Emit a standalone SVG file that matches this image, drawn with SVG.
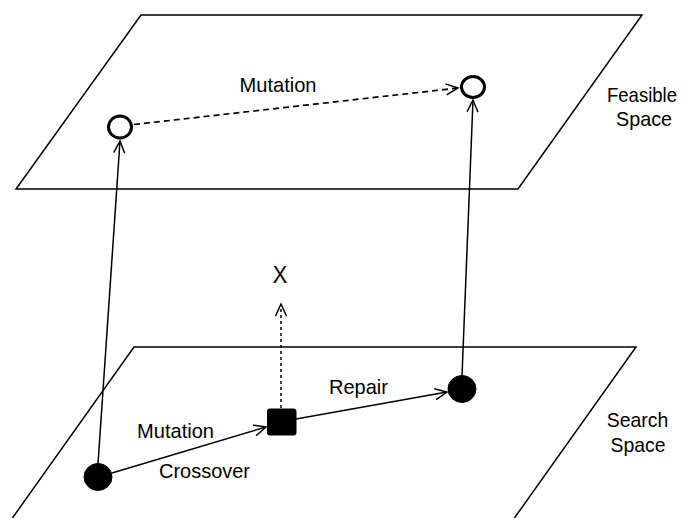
<svg xmlns="http://www.w3.org/2000/svg" width="685" height="518" viewBox="0 0 685 518">
  <defs>
    <marker id="openArrow" markerUnits="userSpaceOnUse" markerWidth="16" markerHeight="14" refX="14" refY="7" orient="auto" overflow="visible">
      <path d="M2,1.5 L14,7 L2,12.5" fill="none" stroke="#000" stroke-width="1.5"/>
    </marker>
  </defs>
  <style>
    .plane { fill: none; stroke: #000; stroke-width: 1.5; }
    .lbl { font-family: "Liberation Sans", Arial, sans-serif; font-size: 21px; fill: #000; text-anchor: middle; }
    .edge { fill: none; stroke: #000; stroke-width: 1.5; marker-end: url(#openArrow); }
    .dashed { stroke-dasharray: 6 4; stroke-width: 1.7; }
    .dotted { stroke-dasharray: 3 3; }
    .open { fill: #fff; stroke: #000; stroke-width: 3; }
    .solid { fill: #000; stroke: #000; stroke-width: 1; }
  </style>

  <!-- planes -->
  <g id="feasible-space">
    <polygon class="plane" points="141,15 642,15 518,189 16,189"/>
    <text class="lbl" x="642" y="102" textLength="70" lengthAdjust="spacingAndGlyphs">Feasible</text>
    <text class="lbl" x="644" y="126" textLength="56" lengthAdjust="spacingAndGlyphs">Space</text>
  </g>
  <g id="search-space">
    <polyline class="plane" points="11,520 134,347 636,347 513,520"/>
    <text class="lbl" x="637.5" y="427" textLength="61.5" lengthAdjust="spacingAndGlyphs">Search</text>
    <text class="lbl" x="638" y="452" textLength="55" lengthAdjust="spacingAndGlyphs">Space</text>
  </g>

  <!-- connectors -->
  <g id="connectors">
    <line class="edge" x1="98" y1="464" x2="120" y2="141"/>
    <line class="edge" x1="462" y1="376" x2="473" y2="100"/>
    <line class="edge dashed" x1="134" y1="124.5" x2="458" y2="88"/>
    <line class="edge" x1="112" y1="473" x2="266" y2="427"/>
    <line class="edge" x1="296" y1="419" x2="447" y2="392"/>
    <line class="edge dotted" x1="281" y1="408" x2="281" y2="304"/>
  </g>

  <!-- nodes -->
  <g id="feasible-a"><ellipse class="open" cx="120" cy="127" rx="11.5" ry="11"/></g>
  <g id="feasible-b"><ellipse class="open" cx="473" cy="87" rx="11.5" ry="10.5"/></g>
  <g id="search-a"><ellipse class="solid" cx="98" cy="477" rx="14" ry="13.5"/></g>
  <g id="offspring"><rect class="solid" x="267.5" y="409" width="28.5" height="26" rx="2"/></g>
  <g id="search-b"><ellipse class="solid" cx="462" cy="389" rx="14" ry="13.5"/></g>
  <g id="rejected"><text class="lbl" x="280" y="283" style="font-size:23px" textLength="14.5" lengthAdjust="spacingAndGlyphs">X</text></g>

  <!-- edge labels -->
  <g id="labels">
    <text class="lbl" x="278" y="92" textLength="77" lengthAdjust="spacingAndGlyphs">Mutation</text>
    <text class="lbl" x="358.5" y="394" textLength="59" lengthAdjust="spacingAndGlyphs">Repair</text>
    <text class="lbl" x="175.5" y="438" textLength="77" lengthAdjust="spacingAndGlyphs">Mutation</text>
    <text class="lbl" x="204.5" y="477.5" textLength="91" lengthAdjust="spacingAndGlyphs">Crossover</text>
  </g>
</svg>
